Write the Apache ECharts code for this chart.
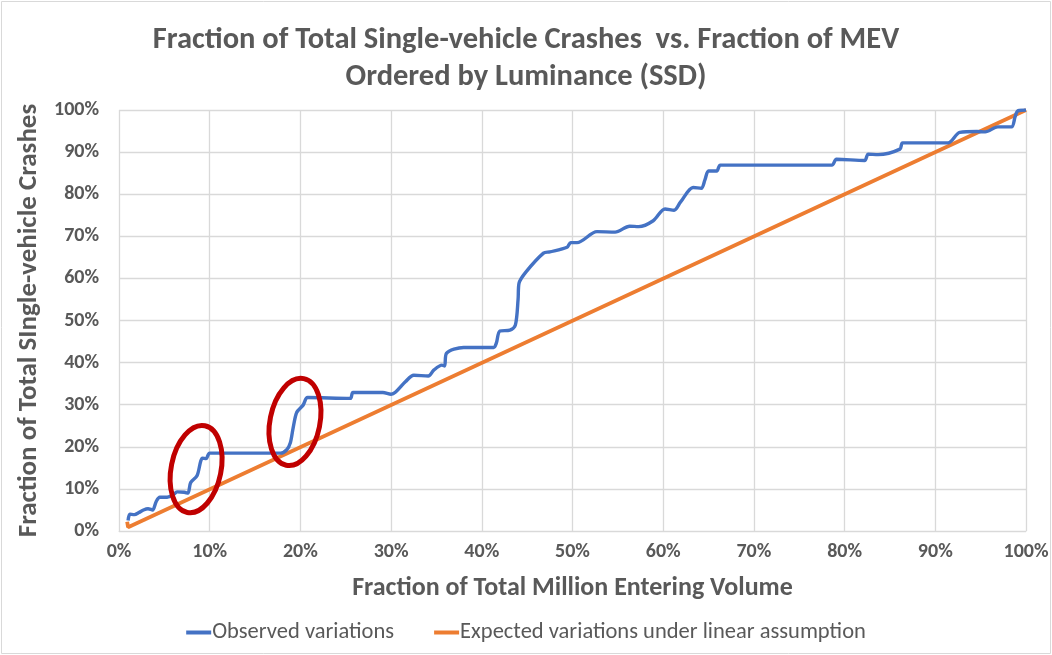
<!DOCTYPE html>
<html>
<head>
<meta charset="utf-8">
<script src="https://cdn.jsdelivr.net/npm/echarts@6/dist/echarts.min.js"></script>
<style>
  html, body { margin: 0; padding: 0; background: #fff; }
  #main { width: 1052px; height: 655px; }
</style>
</head>
<body>
<div id="main"></div>
<script>
// observed cumulative curve (percent)
var obsX = [1.0, 1.2, 1.7, 2.2, 2.7, 3.2, 3.7, 4.1, 4.5, 5.3, 6.0, 6.4, 7.2, 7.6, 7.9, 8.6, 9.0, 9.2, 9.6, 10.0,
  17.8, 18.5, 18.9, 19.2, 19.6, 20.3, 20.8, 25.5, 25.8, 29.1, 30.0, 30.5, 31.6, 32.5, 34.1, 34.7, 35.6, 35.9, 36.1,
  38.0, 41.3, 41.6, 42.0, 43.1, 43.7, 44.0, 44.1, 44.9, 46.8, 47.5, 49.4, 49.8, 50.5, 52.7, 54.7, 56.3, 57.3, 58.9,
  60.2, 61.2, 61.9, 63.3, 64.2, 64.6, 65.0, 65.9, 66.3, 78.6, 79.1, 82.2, 82.6, 83.7, 86.1, 86.4, 91.4, 92.7, 94.6,
  95.5, 96.9, 98.4, 98.8, 99.1, 100];
var obsY = [2.5, 4.0, 3.9, 4.4, 5.0, 5.3, 5.0, 7.0, 8.0, 8.0, 8.6, 9.3, 9.2, 9.0, 11.5, 13.1, 16.5, 17.3, 17.2, 18.5,
  18.5, 19.3, 21.0, 24.5, 28.2, 29.9, 31.7, 31.5, 32.9, 32.9, 32.5, 33.0, 35.5, 37.0, 36.8, 38.2, 39.4, 39.2, 42.2,
  43.6, 43.6, 44.6, 47.5, 47.7, 48.9, 55.0, 58.8, 61.6, 66.0, 66.3, 67.4, 68.5, 68.5, 71.1, 71.0, 72.4, 72.3, 73.7,
  76.5, 76.2, 78.1, 81.6, 81.4, 83.4, 85.5, 85.5, 86.9, 86.9, 88.3, 88.0, 89.5, 89.4, 90.7, 92.2, 92.2, 94.7, 94.9,
  94.8, 96.0, 96.0, 98.4, 99.8, 100];

// expected (linear) line
var expX = [0.9, 1.0, 100];
var expY = [2.2, 0.9, 100];

// red hand-drawn ellipses (centre + radii in data units)
var annoX = [8.5, 19.4];
var annoY = [14.7, 25.9];
var annoRX = [2.75, 2.75];
var annoRY = [10.5, 10.5];

var seriesNames = ['Observed variations', 'Expected variations under linear assumption'];

function zip(a, b) {
  return a.map(function (v, i) { return [v, b[i]]; });
}

var FONT = 'Carlito, Lato, "Liberation Sans Narrow", sans-serif';
var GREY = '#595959';

var chart = echarts.init(document.getElementById('main'));
chart.setOption({
  animation: false,
  textStyle: { fontFamily: FONT },
  title: {
    text: 'Fraction of Total Single-vehicle Crashes  vs. Fraction of MEV\nOrdered by Luminance (SSD)',
    left: 'center',
    top: 17,
    textStyle: { fontFamily: FONT, fontSize: 30.5, fontWeight: 'bold', color: GREY, lineHeight: 37 }
  },
  graphic: [{
    type: 'rect',
    shape: { x: 1.5, y: 1.5, width: 1049, height: 652 },
    style: { fill: 'none', stroke: '#d9d9d9', lineWidth: 1 },
    silent: true
  }],
  grid: { left: 119, right: 26, top: 110, bottom: 124 },
  legend: {
    bottom: 6,
    left: 'center',
    itemGap: 40,
    itemWidth: 25,
    itemHeight: 4,
    icon: 'rect',
    data: seriesNames,
    textStyle: { fontFamily: FONT, fontSize: 22.5, color: GREY, padding: [0, 0, 0, -4] }
  },
  xAxis: {
    type: 'value',
    min: 0, max: 100, interval: 10,
    name: 'Fraction of Total Million Entering Volume',
    nameLocation: 'middle',
    nameGap: 44,
    nameTextStyle: { fontFamily: FONT, fontSize: 26, fontWeight: 'bold', color: GREY },
    axisLine: { show: true, lineStyle: { color: '#d9d9d9' } },
    axisTick: { show: false },
    axisLabel: { formatter: '{value}%', fontSize: 20, fontWeight: 'bold', color: GREY, margin: 11 },
    splitLine: { show: true, lineStyle: { color: '#d9d9d9', width: 1.3 } }
  },
  yAxis: {
    type: 'value',
    min: 0, max: 100, interval: 10,
    name: 'Fraction of Total SIngle-vehicle Crashes',
    nameLocation: 'middle',
    nameGap: 68,
    nameTextStyle: { fontFamily: FONT, fontSize: 27, fontWeight: 'bold', color: GREY },
    axisLine: { show: false },
    axisTick: { show: false },
    axisLabel: { formatter: '{value}%', fontSize: 20, fontWeight: 'bold', color: GREY, margin: 20 },
    splitLine: { show: true, lineStyle: { color: '#d9d9d9', width: 1.3 } }
  },
  series: [{
    name: seriesNames[0],
    type: 'line',
    data: zip(obsX, obsY),
    showSymbol: false,
    smooth: 0.3,
    color: '#4472c4',
    lineStyle: { width: 3.4, color: '#4472c4', join: 'round' },
    z: 3
  }, {
    name: seriesNames[1],
    type: 'line',
    data: zip(expX, expY),
    showSymbol: false,
    color: '#ed7d31',
    lineStyle: { width: 3.8, color: '#ed7d31' },
    z: 2
  }, {
    type: 'custom',
    data: annoX.map(function (x, i) { return [x, annoY[i], annoRX[i], annoRY[i]]; }),
    z: 4,
    silent: true,
    renderItem: function (params, api) {
      var c = api.coord([api.value(0), api.value(1)]);
      var s = api.size([api.value(2), api.value(3)]);
      return {
        type: 'ellipse',
        x: c[0], y: c[1],
        rotation: -0.2,
        shape: { cx: 0, cy: 0, rx: s[0], ry: s[1] },
        style: { fill: 'none', stroke: '#c00000', lineWidth: 5 }
      };
    }
  }]
});
</script>
</body>
</html>
